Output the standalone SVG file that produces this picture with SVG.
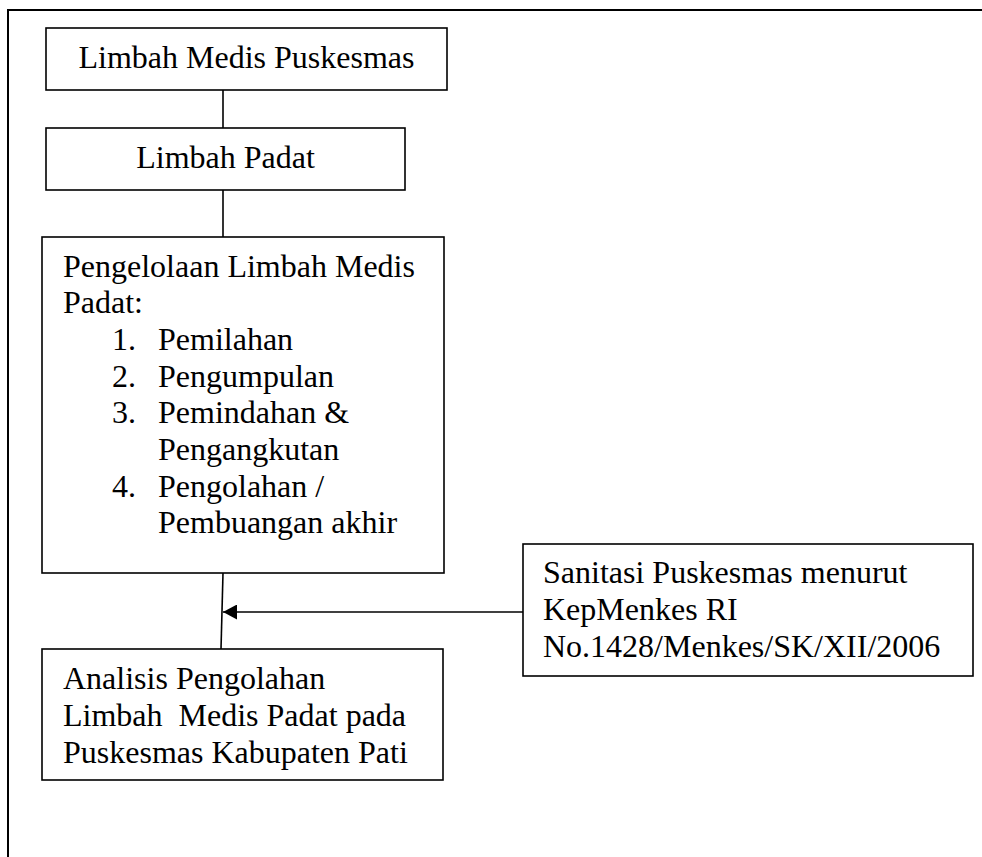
<svg xmlns="http://www.w3.org/2000/svg" width="982" height="857" viewBox="0 0 982 857">
<style>
.box{fill:#fff;stroke:#000;stroke-width:1.6}
.t{font-family:"Liberation Serif","Times New Roman",serif;font-size:32px;fill:#000;white-space:pre}
.c{text-anchor:middle}
.ln{stroke:#000;stroke-width:1.6;fill:none}
</style>
<defs>
<marker id="ah" markerWidth="14" markerHeight="15" refX="14" refY="7.5" orient="auto" markerUnits="userSpaceOnUse">
<path d="M0,0 L14,7.5 L0,15 Z" fill="#000"/>
</marker>
</defs>
<rect width="982" height="857" fill="#fff"/>
<g id="frame">
<path d="M8,857 L8,10 L982,10" fill="none" stroke="#000" stroke-width="2"/>
</g>
<g id="connectors">
<line class="ln" x1="223" y1="90" x2="223" y2="128"/>
<line class="ln" x1="223" y1="190" x2="223" y2="237"/>
<line class="ln" x1="223" y1="573" x2="221" y2="649"/>
<line class="ln" x1="523" y1="612" x2="223" y2="612" marker-end="url(#ah)"/>
</g>
<g id="n1">
<rect class="box" x="46" y="28" width="401" height="62"/>
<text class="t c" x="246.5" y="68">Limbah Medis Puskesmas</text>
</g>
<g id="n2">
<rect class="box" x="46" y="128" width="359" height="62"/>
<text class="t c" x="225.5" y="168">Limbah Padat</text>
</g>
<g id="n3">
<rect class="box" x="42" y="237" width="402" height="336"/>
<text class="t" x="63" y="277">Pengelolaan Limbah Medis</text>
<text class="t" x="63" y="313">Padat:</text>
<text class="t" x="112" y="350">1.</text>
<text class="t" x="158" y="350">Pemilahan</text>
<text class="t" x="112" y="387">2.</text>
<text class="t" x="158" y="387">Pengumpulan</text>
<text class="t" x="112" y="423">3.</text>
<text class="t" x="158" y="423">Pemindahan &amp;</text>
<text class="t" x="158" y="460">Pengangkutan</text>
<text class="t" x="112" y="497">4.</text>
<text class="t" x="158" y="497">Pengolahan /</text>
<text class="t" x="158" y="533">Pembuangan akhir</text>
</g>
<g id="n4">
<rect class="box" x="42" y="649" width="401" height="131"/>
<text class="t" x="63" y="689">Analisis Pengolahan</text>
<text class="t" x="63" y="726">Limbah  Medis Padat pada</text>
<text class="t" x="63" y="763">Puskesmas Kabupaten Pati</text>
</g>
<g id="n5">
<rect class="box" x="523" y="544" width="450" height="132"/>
<text class="t" x="543" y="583">Sanitasi Puskesmas menurut</text>
<text class="t" x="543" y="620">KepMenkes RI</text>
<text class="t" x="543" y="657">No.1428/Menkes/SK/XII/2006</text>
</g>
</svg>
